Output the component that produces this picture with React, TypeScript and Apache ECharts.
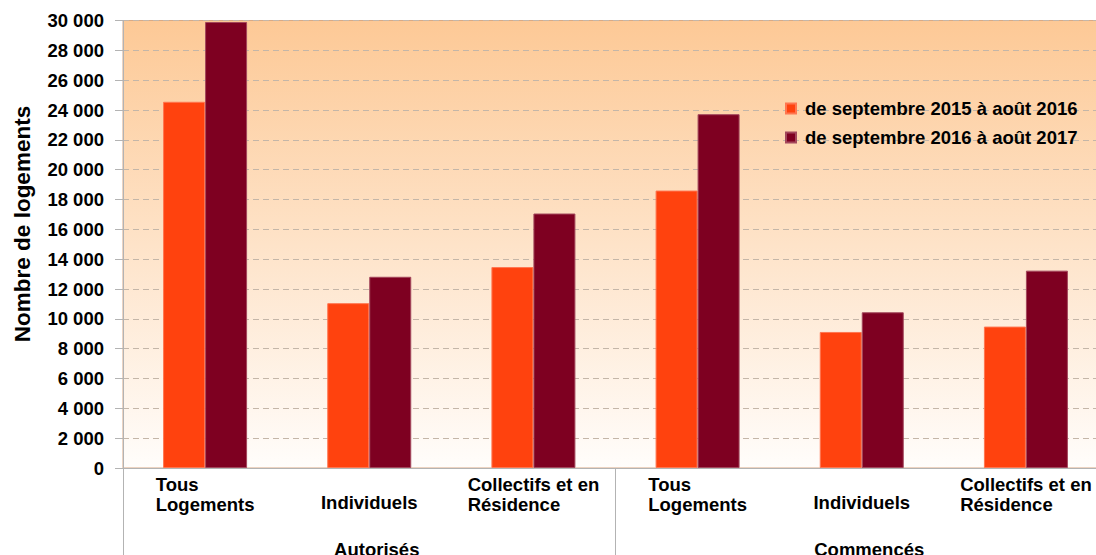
import React, { useEffect, useRef } from 'react';
import * as echarts from 'echarts';

const categories = [
  'Tous\nLogements',
  'Individuels',
  'Collectifs et en\nRésidence',
  'Tous\nLogements',
  'Individuels',
  'Collectifs et en\nRésidence',
];
const groups = ['Autorisés', 'Commencés'];
const seriesNames = ['de septembre 2015 à août 2016', 'de septembre 2016 à août 2017'];
const values2015 = [24550, 11050, 13470, 18600, 9120, 9480];
const values2016 = [29900, 12820, 17060, 23720, 10440, 13230];
const yMin = 0;
const yMax = 30000;
const yInterval = 2000;
const yTitle = 'Nombre de logements';

const FONT = "'Liberation Sans', Arial, sans-serif";
const FS = 18.5;
const CHART_W = 1130;
const CHART_H = 555;

function fmtThousands(v: number): string {
  const s = String(Math.round(v));
  return s.replace(/\B(?=(\d{3})+(?!\d))/g, ' ');
}

export default function App() {
  const ref = useRef<HTMLDivElement>(null);
  useEffect(() => {
    document.body.style.margin = '0';
    document.body.style.overflow = 'hidden';
    document.documentElement.style.overflow = 'hidden';
    const chart = echarts.init(ref.current!, null, { renderer: 'svg', width: CHART_W, height: CHART_H });
    chart.setOption({
      animation: false,
      textStyle: { fontFamily: FONT },
      grid: {
        left: 123,
        top: 20.5,
        right: CHART_W - 1108,
        bottom: 87,
        outerBoundsMode: 'none',
        containLabel: false,
        show: true,
        borderColor: '#d8a986',
        borderWidth: 1,
        backgroundColor: new echarts.graphic.LinearGradient(0, 0, 0, 1, [
          { offset: 0, color: '#fdc996' },
          { offset: 1, color: '#fffdfb' },
        ]),
      },
      legend: {
        orient: 'vertical',
        left: 785,
        top: 99,
        padding: 0,
        itemWidth: 10,
        itemHeight: 10,
        itemGap: 10,
        icon: 'rect',
        data: seriesNames,
        textStyle: {
          fontSize: FS,
          fontWeight: 'bold',
          color: '#000',
          fontFamily: FONT,
          padding: [0, 0, 0, 4],
        },
      },
      xAxis: [
        {
          type: 'category',
          data: categories,
          axisLine: { show: true, lineStyle: { color: '#b3b3b3' } },
          axisTick: { show: false },
          splitLine: { show: false },
          axisLabel: {
            interval: 0,
            margin: 6,
            align: 'center',
            verticalAlign: 'top',
            formatter: (val: string) => {
              const lines = val.split('\n');
              if (lines.length === 1) return `{s| }\n{a|${lines[0]}}`;
              return lines.map((l) => `{a|${l}}`).join('\n');
            },
            rich: {
              a: {
                fontSize: FS,
                fontWeight: 'bold',
                color: '#000',
                align: 'left',
                lineHeight: 20.5,
                fontFamily: FONT,
              },
              s: {
                fontSize: FS,
                align: 'left',
                lineHeight: 18.5,
                fontFamily: FONT,
              },
            },
          },
        },
        {
          type: 'category',
          data: groups,
          position: 'bottom',
          axisLine: { show: false },
          axisTick: { show: true, length: 88, alignWithLabel: false, lineStyle: { color: '#b3b3b3' } },
          splitLine: { show: false },
          axisLabel: {
            interval: 0,
            margin: 72,
            fontSize: FS,
            fontWeight: 'bold',
            color: '#000',
            fontFamily: FONT,
            padding: [0, 0, 0, 15],
          },
        },
      ],
      yAxis: {
        type: 'value',
        min: yMin,
        max: yMax,
        interval: yInterval,
        axisLine: { show: true, lineStyle: { color: '#b3b3b3' } },
        axisTick: { show: true, length: 8, lineStyle: { color: '#b3b3b3' } },
        axisLabel: {
          margin: 19,
          fontSize: FS,
          fontWeight: 'bold',
          color: '#000',
          fontFamily: FONT,
          formatter: (v: number) => fmtThousands(v),
        },
        splitLine: { show: true, lineStyle: { color: '#c4b6a8', type: [6, 4], width: 1 } },
      },
      graphic: [
        {
          type: 'text',
          x: 22,
          y: 224,
          rotation: Math.PI / 2,
          style: {
            text: yTitle,
            fontSize: 22.5,
            fontWeight: 'bold',
            fontFamily: FONT,
            fill: '#000',
            align: 'center',
            verticalAlign: 'middle',
          },
        },
      ],
      series: [
        {
          name: seriesNames[0],
          type: 'bar',
          xAxisIndex: 0,
          data: values2015,
          barWidth: 42,
          barGap: '0%',
          itemStyle: { color: '#ff420e', borderColor: '#ff7650', borderWidth: 1 },
        },
        {
          name: seriesNames[1],
          type: 'bar',
          xAxisIndex: 0,
          data: values2016,
          barWidth: 42,
          barGap: '0%',
          itemStyle: { color: '#7e0021', borderColor: '#a3475c', borderWidth: 1 },
        },
      ],
    });
    return () => chart.dispose();
  }, []);
  return <div ref={ref} style={{ width: CHART_W, height: CHART_H, overflow: 'hidden' }} />;
}
